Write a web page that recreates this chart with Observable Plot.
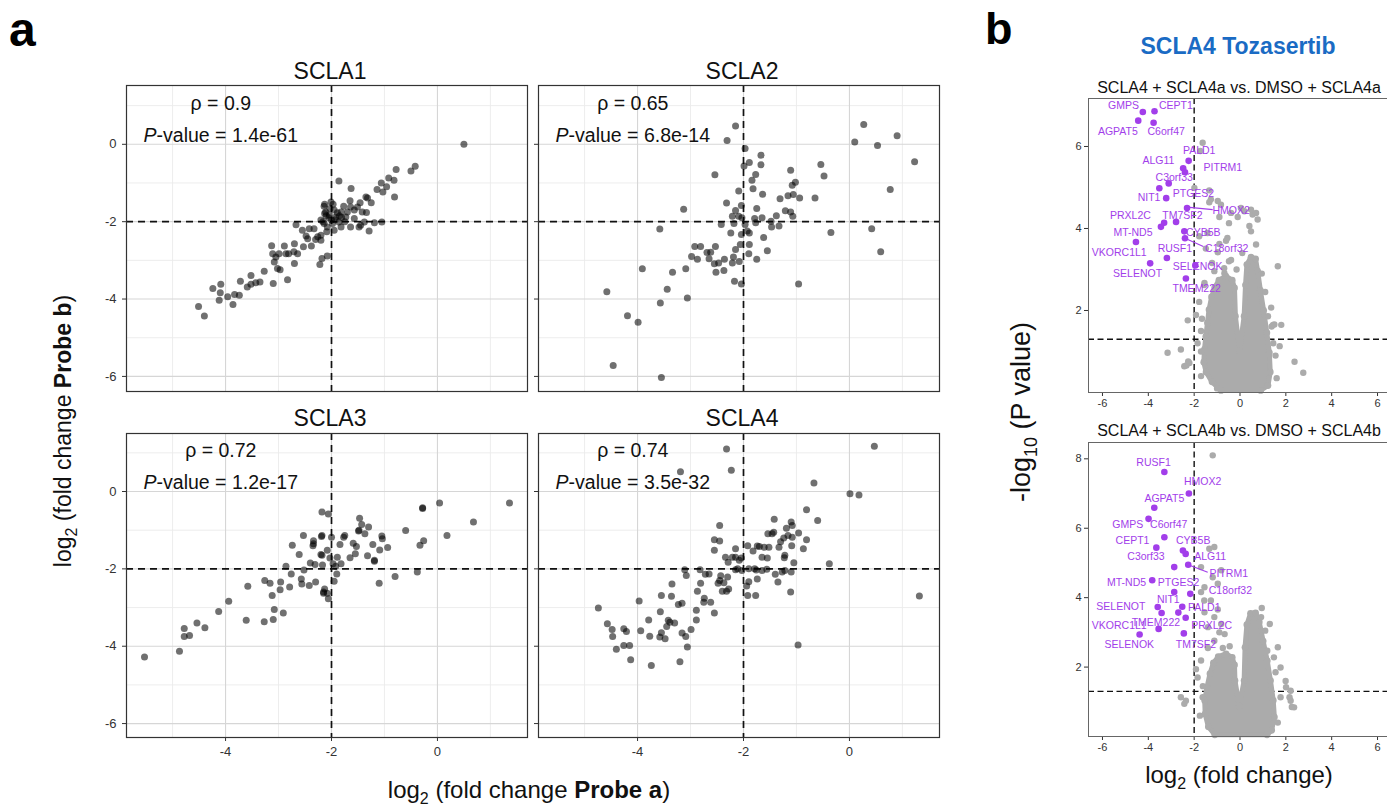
<!DOCTYPE html>
<html><head><meta charset="utf-8">
<script src="https://cdn.jsdelivr.net/npm/d3@7"></script>
<script src="https://cdn.jsdelivr.net/npm/@observablehq/plot@0.6"></script>
<style>
html,body{margin:0;padding:0;background:#fff;overflow:hidden;}
#root{position:relative;width:1387px;height:806px;overflow:hidden;background:#fff;}
</style></head><body><div id="root"></div>
<script>
const FONT = "'Liberation Sans', Arial, Helvetica, sans-serif";

// ---------------- Panel a data ----------------
const facetNames = ["SCLA1", "SCLA2", "SCLA3", "SCLA4"];
const rhoValues = ["0.9", "0.65", "0.72", "0.74"];
const pValues = ["1.4e-61", "6.8e-14", "1.2e-17", "3.5e-32"];
const xTicksA = [-4, -2, 0];
const yTicksA = [0, -2, -4, -6];
const xMinorA = [-5, -3, -1, 1];
const yMinorA = [1, -1, -3, -5];
const cutoffA = -2;

const scla1 = [[0.50,0.00],[-0.42,-0.57],[-0.50,-0.69],[-0.78,-0.65],[-0.92,-0.87],[-0.82,-0.93],[-1.06,-1.00],[-0.96,-1.10],[-1.14,-1.17],[-1.03,-1.23],[-0.81,-1.36],[-1.32,-1.39],[-1.35,-1.36],[-1.25,-1.51],[-1.46,-1.51],[-1.34,-1.76],[-1.86,-0.95],[-1.63,-1.14],[-1.65,-1.46],[-1.77,-1.60],[-1.64,-1.62],[-2.01,-1.49],[-2.14,-1.60],[-1.95,-1.70],[-2.13,-1.79],[-2.04,-1.83],[-1.92,-1.88],[-1.82,-1.75],[-1.73,-1.88],[-1.57,-1.92],[-1.45,-2.09],[-1.48,-2.14],[-1.29,-2.24],[-1.19,-2.03],[-1.05,-2.01],[-1.38,-2.01],[-1.64,-2.14],[-1.82,-2.14],[-1.95,-2.22],[-2.08,-2.14],[-2.20,-1.96],[-2.14,-2.05],[-1.98,-2.05],[-1.86,-2.01],[-2.33,-2.18],[-2.42,-2.18],[-2.26,-2.39],[-2.20,-2.48],[-2.30,-2.46],[-2.38,-2.63],[-2.48,-2.37],[-2.67,-2.08],[-2.08,-2.89],[-2.18,-2.95],[-2.22,-3.11],[-2.53,-2.65],[-2.70,-2.57],[-2.64,-2.83],[-2.70,-3.08],[-2.86,-2.83],[-2.89,-2.63],[-2.99,-2.83],[-3.05,-2.91],[-3.11,-2.83],[-3.13,-2.62],[-3.08,-3.04],[-3.02,-3.21],[-2.97,-3.24],[-2.83,-3.50],[-3.10,-3.60],[-3.27,-3.28],[-3.35,-3.56],[-3.43,-3.58],[-3.52,-3.39],[-3.52,-3.62],[-3.59,-3.69],[-3.72,-3.54],[-3.74,-3.90],[-3.83,-3.88],[-3.96,-3.94],[-4.09,-3.62],[-4.10,-3.84],[-4.12,-4.03],[-4.24,-3.73],[-3.86,-4.14],[-4.51,-4.19],[-4.40,-4.44],[-2.11,-1.75],[-2.03,-1.66],[-1.89,-1.77],[-2.00,-1.96],[-2.09,-2.26],[-2.20,-2.35],[-1.81,-1.89],[-1.70,-1.75],[-1.57,-1.70],[-1.42,-1.75],[-1.51,-1.62],[-2.13,-1.55],[-1.97,-1.55],[-2.55,-2.22],[-2.45,-2.44],[-2.71,-2.78],[-2.81,-2.83],[-2.05,-1.90],[-1.93,-1.95],[-2.10,-1.85],[-1.85,-1.85],[-2.16,-2.00],[-1.75,-2.00]];

const scla2 = [[0.27,0.51],[0.10,0.06],[0.53,-0.03],[0.90,0.22],[1.23,-0.45],[0.77,-1.17],[0.42,-2.18],[0.59,-2.78],[-0.35,-2.28],[-0.54,-0.52],[-0.48,-0.82],[-0.65,-1.39],[-2.15,0.47],[-2.31,0.10],[-1.97,-0.11],[-1.99,-0.56],[-1.89,-0.47],[-1.67,-0.28],[-1.67,-0.53],[-1.77,-0.78],[-1.84,-0.93],[-1.82,-1.15],[-1.64,-1.29],[-2.09,-1.21],[-2.32,-1.52],[-2.54,-0.79],[-3.13,-1.68],[-3.58,-2.19],[-2.04,-1.58],[-2.15,-1.71],[-2.21,-1.86],[-2.09,-1.86],[-2.03,-1.90],[-1.75,-1.66],[-1.79,-1.92],[-1.65,-1.90],[-1.77,-2.03],[-1.93,-2.24],[-1.89,-2.29],[-2.04,-2.33],[-2.24,-2.29],[-2.42,-2.07],[-2.18,-2.05],[-1.97,-2.07],[-1.48,-1.99],[-1.47,-2.14],[-1.33,-2.11],[-1.38,-1.85],[-1.21,-1.72],[-1.11,-1.75],[-1.07,-1.86],[-1.11,-0.67],[-1.02,-0.98],[-1.08,-1.06],[-1.16,-1.33],[-1.06,-1.30],[-0.94,-1.39],[-1.31,-1.41],[-1.62,-2.41],[-1.55,-2.75],[-1.75,-2.97],[-1.89,-2.59],[-2.06,-2.59],[-2.15,-2.72],[-2.08,-3.03],[-2.21,-3.07],[-2.36,-2.97],[-2.53,-2.64],[-2.62,-2.79],[-2.69,-2.80],[-2.81,-2.64],[-2.92,-2.64],[-2.98,-2.90],[-2.87,-2.97],[-2.65,-2.96],[-2.55,-3.09],[-2.47,-3.07],[-2.52,-3.31],[-2.37,-3.26],[-2.19,-2.91],[-2.04,-3.61],[-2.17,-3.54],[-3.09,-3.22],[-3.34,-3.31],[-3.91,-3.22],[-3.44,-3.75],[-3.57,-4.10],[-3.06,-3.97],[-4.58,-3.81],[-4.19,-4.43],[-3.99,-4.60],[-4.46,-5.72],[-3.55,-6.03],[-0.96,-3.61],[-1.90,-2.83]];

const scla3 = [[1.36,-0.30],[0.04,-0.30],[-0.28,-0.42],[-0.28,-0.44],[0.68,-0.79],[0.18,-1.14],[-0.60,-1.01],[-0.26,-1.27],[-0.33,-1.39],[-0.38,-2.08],[-0.80,-2.20],[-0.94,-1.45],[-1.05,-1.15],[-1.04,-1.22],[-1.09,-1.51],[-1.22,-1.37],[-1.32,-1.66],[-1.19,-1.78],[-1.19,-1.80],[-1.10,-2.37],[-1.47,-0.69],[-1.43,-0.85],[-1.30,-0.92],[-1.49,-1.02],[-1.48,-1.00],[-1.37,-1.09],[-1.59,-1.34],[-1.53,-1.42],[-1.55,-1.61],[-1.65,-1.71],[-1.75,-1.14],[-1.84,-1.37],[-1.77,-1.18],[-1.89,-1.70],[-1.82,-1.87],[-1.92,-1.93],[-1.97,-1.87],[-1.90,-2.13],[-1.95,-2.32],[-2.18,-0.53],[-2.06,-0.58],[-2.19,-1.16],[-2.18,-1.14],[-2.00,-1.18],[-2.34,-1.27],[-2.35,-1.40],[-2.34,-1.35],[-2.53,-1.14],[-2.74,-1.39],[-2.61,-1.63],[-2.40,-1.85],[-2.31,-1.89],[-2.18,-1.65],[-2.20,-1.63],[-2.17,-1.90],[-2.08,-1.52],[-2.03,-1.72],[-2.52,-2.03],[-2.57,-2.26],[-2.56,-2.39],[-2.42,-2.43],[-2.30,-2.34],[-2.76,-2.13],[-2.79,-2.47],[-2.86,-1.93],[-2.96,-2.34],[-2.97,-2.54],[-3.26,-2.30],[-3.16,-2.37],[-3.12,-2.69],[-3.08,-3.05],[-3.10,-3.31],[-2.91,-3.14],[-3.27,-3.37],[-3.61,-3.33],[-3.58,-2.45],[-3.94,-2.84],[-4.13,-3.10],[-4.39,-3.52],[-4.54,-3.40],[-4.78,-3.54],[-4.78,-3.75],[-4.68,-3.72],[-4.87,-4.13],[-5.53,-4.28],[-2.13,-2.52],[-2.08,-2.63],[-2.06,-2.77],[-2.15,-2.63],[-2.15,-2.60]];

const scla4 = [[0.47,1.17],[0.01,-0.06],[0.18,-0.09],[1.32,-2.70],[-0.67,0.22],[-0.81,-0.47],[-0.60,-0.75],[-0.38,-1.87],[-0.97,-3.97],[-2.32,1.10],[-2.23,0.55],[-3.19,0.51],[-1.42,-0.72],[-1.10,-0.79],[-1.08,-0.88],[-1.19,-0.95],[-0.96,-1.07],[-0.81,-1.25],[-0.87,-1.48],[-1.08,-1.18],[-1.16,-1.14],[-1.24,-1.20],[-1.43,-1.05],[-1.46,-1.09],[-1.54,-1.09],[-1.33,-1.44],[-1.09,-1.40],[-1.22,-1.65],[-1.23,-1.71],[-1.05,-1.84],[-1.10,-2.08],[-1.22,-2.04],[-1.27,-2.08],[-1.40,-2.14],[-1.35,-2.34],[-1.11,-2.60],[-1.55,-1.72],[-1.65,-1.70],[-1.52,-1.44],[-1.61,-1.44],[-1.74,-1.41],[-1.92,-1.40],[-1.82,-1.54],[-1.56,-2.01],[-1.65,-2.04],[-1.76,-2.03],[-1.74,-2.26],[-1.90,-2.33],[-1.94,-2.44],[-1.77,-2.69],[-1.92,-2.69],[-2.03,-2.04],[-2.15,-2.02],[-2.11,-2.00],[-2.08,-1.78],[-2.21,-1.70],[-2.15,-1.70],[-2.34,-1.70],[-2.29,-1.83],[-2.45,-0.88],[-2.55,-1.25],[-2.45,-1.28],[-2.55,-1.52],[-2.43,-2.18],[-2.48,-2.37],[-2.37,-2.36],[-2.30,-2.21],[-2.28,-2.52],[-2.40,-2.58],[-2.32,-2.58],[-2.65,-2.13],[-2.72,-2.14],[-2.82,-2.02],[-2.81,-2.37],[-2.87,-2.58],[-2.74,-2.76],[-2.62,-2.86],[-2.55,-3.14],[-2.75,-2.86],[-2.89,-3.07],[-2.89,-3.32],[-2.99,-3.57],[-3.11,-2.02],[-3.08,-2.17],[-3.35,-2.39],[-3.36,-2.71],[-3.55,-2.69],[-3.23,-2.92],[-3.16,-2.89],[-3.57,-3.11],[-3.79,-3.32],[-3.97,-2.83],[-3.42,-3.33],[-3.39,-3.38],[-3.45,-3.49],[-3.55,-3.65],[-3.48,-3.81],[-3.58,-3.76],[-3.77,-3.74],[-3.94,-3.60],[-3.16,-3.66],[-3.09,-3.75],[-3.06,-4.02],[-3.20,-4.40],[-3.74,-4.50],[-4.13,-4.35],[-4.15,-3.98],[-4.26,-3.98],[-4.40,-4.08],[-4.47,-3.75],[-4.57,-3.42],[-4.74,-3.01],[-4.26,-3.55],[-4.21,-3.62],[-4.48,-3.57],[-2.15,-1.48],[-2.04,-1.72],[-1.90,-2.00],[-1.79,-2.00],[-1.70,-1.42],[-1.30,-1.30],[-2.45,-2.30],[-3.30,-3.40]];

const facetPoints = [scla1, scla2, scla3, scla4];

// ---------------- Panel b data ----------------
const xTicksB = [-6, -4, -2, 0, 2, 4, 6];
const yTicksB1 = [2, 4, 6];
const yTicksB2 = [2, 4, 6, 8];
const fcCutoff = -2;
const pCutoff = 1.3;
const volcanoTitles = ["SCLA4 + SCLA4a vs. DMSO + SCLA4a", "SCLA4 + SCLA4b vs. DMSO + SCLA4b"];

// [gene, log2FC, -log10 P, label x, label y]
const genes1 = [
  ["GMPS",-4.24,6.84,-5.08,7.00],["CEPT1",-3.73,6.86,-2.80,7.00],["AGPAT5",-4.44,6.63,-5.33,6.37],
  ["C6orf47",-3.77,6.58,-3.22,6.35],["PALD1",-2.24,5.65,-1.78,5.89],["ALG11",-2.48,5.47,-3.56,5.66],
  ["PITRM1",-2.40,5.37,-0.75,5.48],["C3orf33",-3.11,5.10,-2.87,5.25],["PTGES2",-3.52,4.98,-2.03,4.85],
  ["NIT1",-3.22,4.74,-3.97,4.75],["HMOX2",-2.31,4.50,-0.39,4.44],["TM7SF2",-2.79,4.16,-2.51,4.32],
  ["PRXL2C",-3.31,4.14,-4.78,4.32],["MT-ND5",-3.45,4.04,-4.67,3.91],["CYB5B",-2.43,3.93,-1.60,3.91],
  ["C18orf32",-2.40,3.76,-0.58,3.50],["VKORC1L1",-4.54,3.67,-5.27,3.40],["RUSF1",-3.19,3.28,-2.84,3.50],
  ["SELENOT",-3.92,3.15,-4.47,2.90],["SELENOK",-1.95,3.10,-1.85,3.06],["TMEM222",-2.36,2.78,-1.89,2.54]
];
const links1 = [[-2.31,4.52,-1.19,4.46],[-2.40,3.76,-1.60,3.56]];

const genes2 = [
  ["RUSF1",-3.30,7.62,-3.77,7.90],["HMOX2",-2.23,7.00,-1.63,7.33],["AGPAT5",-3.74,6.59,-3.30,6.84],
  ["GMPS",-3.99,6.27,-4.90,6.10],["C6orf47",-3.30,5.74,-3.11,6.10],["CEPT1",-3.65,5.44,-4.69,5.63],
  ["CYB5B",-2.49,5.36,-2.04,5.63],["ALG11",-2.37,5.26,-1.30,5.17],["PITRM1",-2.26,4.95,-0.49,4.69],
  ["C3orf33",-2.87,4.88,-4.10,5.17],["MT-ND5",-3.83,4.50,-4.95,4.43],["PTGES2",-2.87,4.16,-2.68,4.43],
  ["C18orf32",-2.17,4.11,-0.42,4.21],["SELENOT",-3.59,3.73,-5.20,3.73],["NIT1",-3.42,3.56,-3.13,3.94],
  ["PALD1",-2.52,3.74,-1.56,3.71],["TMEM222",-2.69,3.57,-3.67,3.28],["PRXL2C",-2.37,3.42,-1.24,3.18],
  ["VKORC1L1",-3.55,3.10,-5.27,3.20],["SELENOK",-4.38,2.94,-4.83,2.65],["TM7SF2",-2.45,2.97,-1.92,2.65]
];
const links2 = [[-2.26,4.95,-1.41,4.73]];

// outline of the densely overlapping grey cloud (log2FC, -log10 P)
const cloud1 = [[-0.83,0.05],[-1.22,0.26],[-1.48,0.50],[-1.58,0.74],[-1.55,1.05],[-1.49,1.37],[-1.42,1.70],[-1.35,2.02],[-1.24,2.33],[-1.10,2.56],[-0.92,2.74],[-0.62,2.84],[-0.34,2.74],[-0.24,2.55],[-0.20,1.86],[-0.02,1.02],[0.18,1.86],[0.24,2.62],[0.30,3.12],[0.48,3.30],[0.68,3.26],[0.77,2.96],[0.89,2.49],[1.03,2.00],[1.17,1.46],[1.28,0.97],[1.32,0.50],[1.22,0.17],[0.90,0.05]];
const grey1 = [[-1.63,6.09],[-1.73,5.89],[-1.99,4.99],[-1.34,4.93],[-1.34,4.64],[-0.97,4.67],[0.04,4.50],[0.19,4.42],[0.55,4.34],[-0.48,4.13],[0.41,4.06],[0.48,3.93],[-0.55,3.77],[-1.42,3.89],[-1.78,3.81],[-0.90,3.62],[-1.49,3.51],[-0.48,3.20],[-1.22,3.16],[-0.68,2.91],[-1.55,2.67],[0.70,3.61],[1.65,3.08],[1.36,2.07],[1.44,1.65],[1.80,1.65],[1.50,1.66],[1.22,1.86],[1.73,1.13],[2.38,0.75],[2.76,0.48],[-2.28,1.76],[-2.58,1.05],[-2.43,0.64],[-2.21,0.72],[-1.70,1.50],[-1.92,1.89],[-1.78,2.21],[-1.56,2.62],[-1.12,2.96],[-0.69,3.03],[-0.39,3.23],[-0.97,3.42],[-0.61,3.70],[0.77,4.22],[-0.39,4.38],[-0.83,4.58],[-1.27,4.71],[-3.16,0.97],[-2.34,0.66],[-2.26,0.76],[1.38,1.61],[-0.90,4.28],[-0.10,4.28],[0.48,4.46],[0.70,4.38],[-1.85,1.20],[-1.70,0.40],[1.55,0.90],[1.60,0.35],[-0.15,3.00],[0.10,3.40],[-1.70,1.00],[-1.66,1.80],[1.10,2.45],[0.95,2.90],[1.45,1.20],[-1.00,0.10]];

const cloud2 = [[-1.10,0.05],[-1.38,0.28],[-1.52,0.65],[-1.54,1.04],[-1.44,1.42],[-1.31,1.81],[-1.16,2.12],[-0.95,2.30],[-0.61,2.38],[-0.34,2.28],[-0.24,2.06],[-0.22,1.61],[-0.03,0.88],[0.18,1.61],[0.22,2.57],[0.30,3.22],[0.46,3.55],[0.68,3.56],[0.84,3.30],[1.01,2.75],[1.19,2.18],[1.33,1.61],[1.45,1.04],[1.50,0.56],[1.38,0.18],[1.18,0.05]];
const grey2 = [[-1.19,8.10],[-1.12,5.46],[-1.34,5.41],[-1.70,4.88],[-0.82,4.79],[-1.19,4.59],[-0.97,4.40],[-1.55,4.30],[-1.70,4.16],[-1.27,3.92],[-0.97,3.66],[-1.55,3.58],[-1.12,3.44],[-0.82,3.24],[-1.40,3.15],[-0.67,2.95],[-1.12,2.76],[0.92,3.44],[1.30,3.24],[1.19,2.47],[1.48,2.28],[1.77,1.99],[1.99,1.60],[2.21,1.32],[1.77,1.13],[2.21,1.03],[2.36,0.84],[-2.58,1.13],[-2.36,1.03],[-2.43,0.94],[-1.92,1.94],[-1.70,2.19],[-1.85,1.70],[-1.63,1.13],[1.65,2.57],[2.01,1.42],[2.16,1.13],[2.26,0.85],[-1.56,3.92],[-0.45,2.60],[-1.40,2.55],[-0.90,3.00],[1.10,3.05],[-1.75,0.60],[1.65,0.40],[-1.62,1.45],[1.55,1.85],[-0.75,2.55],[0.95,3.70]];

// ---------------- helpers ----------------
const root = document.getElementById("root");
function place(el, left, top) {
  el.style.position = "absolute";
  el.style.left = left + "px";
  el.style.top = top + "px";
  root.appendChild(el);
  return el;
}
const fmt = d => String(d);

// ---------------- Panel a ----------------
const frames = [
  {x0: 126, x1: 527, y0: 85, y1: 391, yd: [-6.39, 1.52], showX: false, showY: true},
  {x0: 538, x1: 939, y0: 85, y1: 391, yd: [-6.39, 1.52], showX: false, showY: false},
  {x0: 126, x1: 527, y0: 433, y1: 737, yd: [-6.36, 1.50], showX: true, showY: true},
  {x0: 538, x1: 939, y0: 433, y1: 737, yd: [-6.36, 1.50], showX: true, showY: false}
];

frames.forEach((f, i) => {
  const pts = facetPoints[i].map(([x, y]) => ({x, y}));
  const mL = f.showY ? 44 : 8, mR = 4, mT = 4, mB = f.showX ? 34 : 4;
  const w = f.x1 - f.x0, h = f.y1 - f.y0;
  const svg = Plot.plot({
    width: mL + w + mR, height: mT + h + mB,
    marginLeft: mL, marginRight: mR, marginTop: mT, marginBottom: mB,
    style: {fontFamily: FONT, fontSize: "13px", color: "#333", background: "transparent", overflow: "visible"},
    x: {domain: [-5.87, 1.70], ticks: xTicksA, tickSize: 4, tickPadding: 5, tickFormat: fmt, axis: f.showX ? "bottom" : null, label: null},
    y: {domain: f.yd, ticks: yTicksA, tickSize: 4, tickPadding: 6, tickFormat: f.showY ? fmt : () => "", axis: "left", label: null},
    marks: [
      Plot.ruleX(xMinorA, {stroke: "#ebebeb", strokeWidth: 0.9}),
      Plot.ruleY(yMinorA, {stroke: "#ebebeb", strokeWidth: 0.9}),
      Plot.ruleX(xTicksA, {stroke: "#d6d6d6", strokeWidth: 1.1}),
      Plot.ruleY(yTicksA, {stroke: "#d6d6d6", strokeWidth: 1.1}),
      Plot.ruleX([cutoffA], {stroke: "#111", strokeWidth: 1.7, strokeDasharray: "7,5"}),
      Plot.ruleY([cutoffA], {stroke: "#111", strokeWidth: 1.7, strokeDasharray: "7,5"}),
      Plot.dot(pts, {x: "x", y: "y", r: 3.5, fill: "#000", fillOpacity: 0.56, stroke: "none"}),
      Plot.text([{x: -4.09, y: 1.06, t: "\u03c1 = " + rhoValues[i]}], {x: "x", y: "y", text: "t", fontSize: 19.5, fill: "#111"}),
      Plot.text([{x: -4.09, y: 0.23, t: "P-value = " + pValues[i]}], {x: "x", y: "y", text: "t", fontSize: 19.5, fill: "#111"}),
      Plot.frame({stroke: "#333", strokeWidth: 1.2})
    ]
  });
  d3.select(svg).selectAll("text").each(function () {
    const s = this.textContent;
    if (s.startsWith("P-value")) {
      this.textContent = "";
      d3.select(this).append("tspan").attr("font-style", "italic").text("P");
      d3.select(this).append("tspan").text(s.slice(1));
    }
  });
  place(svg, f.x0 - mL, f.y0 - mT);
});

// ---------------- Panel b ----------------
const GREY = "#ababab";
const PURPLE = "#a23eea";
function volcano(top, yMax, yTicks, genes, links, cloud, grey) {
  const mL = 28, mT = 4, mB = 22, w = 303, h = 294;
  const gd = genes.map(([g, x, y, lx, ly]) => ({g, x, y, lx, ly}));
  const ld = links.map(([x1, y1, x2, y2]) => ({x1, y1, x2, y2}));
  const cd = cloud.map(([x, y]) => ({x, y}));
  const pd = grey.map(([x, y]) => ({x, y}));
  const svg = Plot.plot({
    width: mL + w, height: mT + h + mB,
    marginLeft: mL, marginRight: 0, marginTop: mT, marginBottom: mB,
    style: {fontFamily: FONT, fontSize: "11px", color: "#333", background: "transparent"},
    x: {domain: [-6.61, 6.61], ticks: xTicksB, tickSize: 4, tickPadding: 3, tickFormat: fmt, label: null},
    y: {domain: [0, yMax], ticks: yTicks, tickSize: 4, tickPadding: 3, tickFormat: fmt, label: null},
    marks: [
      Plot.ruleX([fcCutoff], {stroke: "#111", strokeWidth: 1.4, strokeDasharray: "6,3.5"}),
      Plot.ruleY([pCutoff], {stroke: "#111", strokeWidth: 1.4, strokeDasharray: "6,3.5"}),
      Plot.line(cd, {x: "x", y: "y", fill: GREY, stroke: GREY, strokeWidth: 5, curve: "linear-closed"}),
      Plot.dot(cd, {x: "x", y: "y", r: 3.4, fill: GREY, stroke: "none"}),
      Plot.dot(pd, {x: "x", y: "y", r: 3.2, fill: GREY, stroke: "none"}),
      Plot.link(ld, {x1: "x1", y1: "y1", x2: "x2", y2: "y2", stroke: PURPLE, strokeWidth: 1.1}),
      Plot.dot(gd, {x: "x", y: "y", r: 3.3, fill: PURPLE, stroke: "none"}),
      Plot.text(gd, {x: "lx", y: "ly", text: "g", fill: PURPLE, fontSize: 10.5}),
      Plot.frame({stroke: "#666", strokeWidth: 1})
    ]
  });
  place(svg, 1088 - mL, top - mT);
}
volcano(98, 7.17, yTicksB1, genes1, links1, cloud1, grey1);
volcano(442, 8.47, yTicksB2, genes2, links2, cloud2, grey2);

// ---------------- titles and axis labels ----------------
const ov = d3.create("svg").attr("width", 1387).attr("height", 806)
  .attr("font-family", FONT).style("pointer-events", "none");
place(ov.node(), 0, 0);

ov.append("text").attr("x", 9).attr("y", 46).attr("font-size", 48).attr("font-weight", "bold").text("a");
ov.append("text").attr("x", 985).attr("y", 44).attr("font-size", 45).attr("font-weight", "bold").text("b");

const titlePos = [[330, 79], [742, 79], [330, 426], [742, 426]];
facetNames.forEach((n, i) => {
  ov.append("text").attr("x", titlePos[i][0]).attr("y", titlePos[i][1]).attr("text-anchor", "middle")
    .attr("font-size", 23).attr("fill", "#111").text(n);
});

function subTitle(g, parts) {
  parts.forEach(p => {
    const t = g.append("tspan").text(p.t);
    if (p.sub) t.attr("dy", p.sub).attr("font-size", p.fs);
    if (p.bold) t.attr("font-weight", "bold");
  });
}
// panel a y title
const ya = ov.append("text").attr("transform", "translate(71,431) rotate(-90)").attr("text-anchor", "middle")
  .attr("font-size", 23).attr("fill", "#111");
subTitle(ya, [{t: "log"}, {t: "2", sub: 6, fs: 16}, {t: " (fold change ", sub: -6, fs: 23}, {t: "Probe b", bold: true}, {t: ")"}]);
// panel a x title
const xa = ov.append("text").attr("x", 529).attr("y", 798).attr("text-anchor", "middle")
  .attr("font-size", 24).attr("fill", "#111");
subTitle(xa, [{t: "log"}, {t: "2", sub: 6, fs: 16}, {t: " (fold change ", sub: -6, fs: 24}, {t: "Probe a", bold: true}, {t: ")"}]);

ov.append("text").attr("x", 1238).attr("y", 54).attr("text-anchor", "middle").attr("font-size", 23)
  .attr("font-weight", "bold").attr("fill", "#1a6bc4").text("SCLA4 Tozasertib");
ov.append("text").attr("x", 1239).attr("y", 93).attr("text-anchor", "middle").attr("font-size", 16)
  .attr("fill", "#111").text(volcanoTitles[0]);
ov.append("text").attr("x", 1239).attr("y", 436).attr("text-anchor", "middle").attr("font-size", 16)
  .attr("fill", "#111").text(volcanoTitles[1]);

const yb = ov.append("text").attr("transform", "translate(1030,412) rotate(-90)").attr("text-anchor", "middle")
  .attr("font-size", 27).attr("fill", "#111");
subTitle(yb, [{t: "-log"}, {t: "10", sub: 7, fs: 18}, {t: " (P value)", sub: -7, fs: 27}]);
const xb = ov.append("text").attr("x", 1239).attr("y", 783).attr("text-anchor", "middle")
  .attr("font-size", 24).attr("fill", "#111");
subTitle(xb, [{t: "log"}, {t: "2", sub: 6, fs: 16}, {t: " (fold change)", sub: -6, fs: 24}]);
</script></body></html>
